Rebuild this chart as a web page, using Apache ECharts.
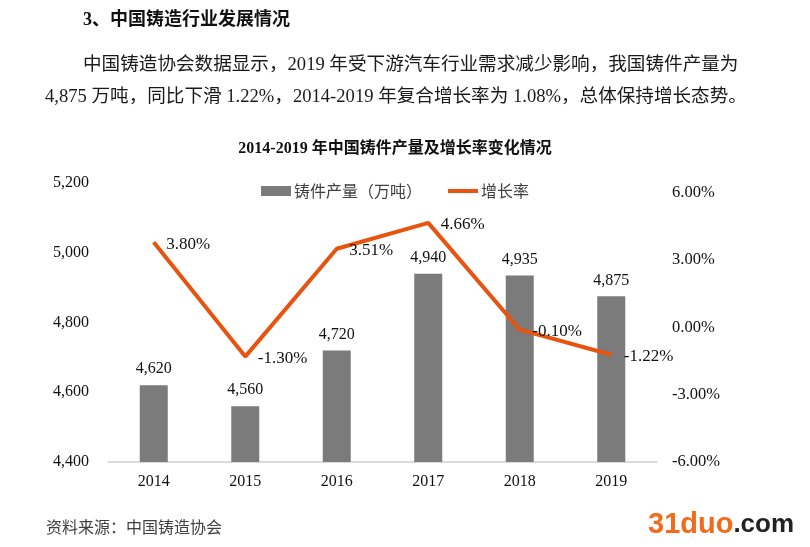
<!DOCTYPE html>
<html>
<head>
<meta charset="utf-8">
<script src="https://cdn.jsdelivr.net/npm/echarts@6/dist/echarts.min.js"></script>
<style>
html,body{margin:0;padding:0;background:#fff;}
#chart{width:810px;height:547px;}
</style>
</head>
<body>
<div id="chart"></div>
<script>
const years = ['2014', '2015', '2016', '2017', '2018', '2019'];
const output = [4620, 4560, 4720, 4940, 4935, 4875];
const growth = [3.80, -1.30, 3.51, 4.66, -0.10, -1.22];
const leftTicks = [4400, 4600, 4800, 5000, 5200];
const rightTicks = [-6, -3, 0, 3, 6];
const seriesNames = ['铸件产量（万吨）', '增长率'];
const heading = '3、中国铸造行业发展情况';
const para1 = '中国铸造协会数据显示，2019 年受下游汽车行业需求减少影响，我国铸件产量为';
const para2 = '4,875 万吨，同比下滑 1.22%，2014-2019 年复合增长率为 1.08%，总体保持增长态势。';
const chartTitle = '2014-2019 年中国铸件产量及增长率变化情况';
const sourceText = '资料来源：中国铸造协会';

const serif = '"Liberation Serif", "Noto Sans CJK SC", serif';
const cjk = '"Noto Sans CJK SC", sans-serif';
const fmtThousands = v => v.toLocaleString('en-US');

const chart = echarts.init(document.getElementById('chart'));
chart.setOption({
  animation: false,
  backgroundColor: '#fff',
  title: {
    text: chartTitle,
    left: 390,
    textAlign: 'center',
    top: 136,
    textStyle: {fontFamily: serif, fontSize: 16, fontWeight: 'bold', color: '#111'}
  },
  legend: {
    left: 256,
    top: 178,
    itemWidth: 30,
    itemHeight: 10,
    itemGap: 26,
    textStyle: {fontFamily: cjk, fontSize: 16, color: '#404040', padding: [0, 0, 0, -2]},
    data: [
      {name: seriesNames[0], icon: 'rect'},
      {name: seriesNames[1], icon: 'path://M0,0 L30,0 L30,4 L0,4 Z'}
    ]
  },
  grid: {left: 108, right: 153, top: 183, bottom: 85, containLabel: false},
  xAxis: {
    type: 'category',
    data: years,
    axisLine: {onZero: false, lineStyle: {color: '#d0d0d0', width: 1.5}},
    axisTick: {show: false},
    axisLabel: {fontFamily: serif, fontSize: 16, color: '#111', margin: 12}
  },
  yAxis: [
    {
      type: 'value',
      min: leftTicks[0],
      max: leftTicks[leftTicks.length - 1],
      interval: 200,
      splitLine: {show: false},
      axisLine: {show: false},
      axisTick: {show: false},
      axisLabel: {fontFamily: serif, fontSize: 16, color: '#111', margin: 19, formatter: v => fmtThousands(v)}
    },
    {
      type: 'value',
      min: rightTicks[0],
      max: 6.44,
      interval: 3,
      splitLine: {show: false},
      axisLine: {show: false},
      axisTick: {show: false},
      axisLabel: {
        fontFamily: serif, fontSize: 16.5, color: '#111', margin: 15,
        showMaxLabel: false,
        formatter: v => rightTicks.includes(v) ? v.toFixed(2) + '%' : ''
      }
    }
  ],
  series: [
    {
      name: seriesNames[0],
      type: 'bar',
      data: output,
      barWidth: 28,
      itemStyle: {color: '#7b7b7b'},
      label: {
        show: true, position: 'top', distance: 8,
        fontFamily: serif, fontSize: 16, color: '#111',
        formatter: p => fmtThousands(p.value)
      }
    },
    {
      name: seriesNames[1],
      type: 'line',
      yAxisIndex: 1,
      data: growth,
      symbol: 'circle',
      symbolSize: 1,
      showSymbol: true,
      lineStyle: {color: '#e8540f', width: 4},
      itemStyle: {color: '#e8540f'},
      label: {
        show: true, position: 'right', distance: 12, offset: [0, 2],
        fontFamily: serif, fontSize: 17, color: '#111',
        formatter: p => p.value.toFixed(2) + '%'
      }
    }
  ],
  graphic: [
    {type: 'text', left: 83, top: 11, style: {text: heading, font: 'bold 18px ' + serif, fill: '#111'}},
    {type: 'text', left: 83, top: 56, style: {text: para1, font: '18.6px ' + serif, fill: '#1a1a1a'}},
    {type: 'text', left: 45, top: 88, style: {text: para2, font: '18.6px ' + serif, fill: '#1a1a1a'}},
    {type: 'text', left: 46, top: 519, style: {text: sourceText, font: '16px ' + cjk, fill: '#404040'}},
    {
      type: 'text', left: 648, top: 510,
      style: {
        text: '{a|31duo}{b|.com}',
        rich: {
          a: {fontFamily: '"Liberation Sans", sans-serif', fontWeight: 'bold', fontSize: 29, fill: '#f26a1b', color: '#f26a1b'},
          b: {fontFamily: '"Liberation Sans", sans-serif', fontWeight: 'bold', fontSize: 26, fill: '#222', color: '#222'}
        }
      }
    }
  ]
});
</script>
</body>
</html>
